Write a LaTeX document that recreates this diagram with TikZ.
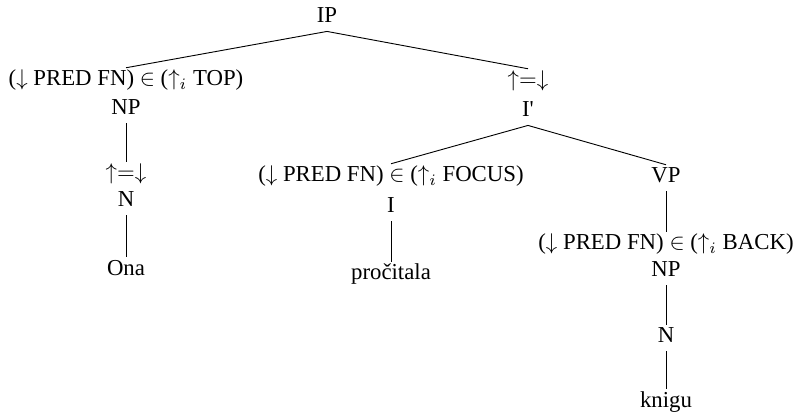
\documentclass[tikz,border=0pt]{standalone}
\usepackage{fontspec}
\setmainfont{Liberation Serif}
\usepackage{amsmath}

\tikzset{
	lbl/.style={inner sep=0pt, text height=7.8pt, text depth=3.5pt, anchor=base}
}

\begin{document}
\begin{tikzpicture}[x=0.4386pt, y=-0.4386pt, every node/.style={lbl}]
			\useasboundingbox (0,0) rectangle (796,417);
			
			\node (ip) at (327,23) {IP};
			
			% left branch
			\node (topf) at (126,86) {($\downarrow$ PRED FN) $\in$ ($\uparrow_i$ TOP)};
			\node (np) at (126,115) {NP};
			\node (npeq) at (126,180) {$\uparrow=\downarrow$};
			\node (n) at (126,207) {N};
			\node (ona) at (126,275) {Ona};
			
			% right branch
			\node (upeq) at (528,87) {$\uparrow=\downarrow$};
			\node (ibar) at (528,117) {I\textquotesingle};
			\node (focf) at (391,182) {($\downarrow$ PRED FN) $\in$ ($\uparrow_i$ FOCUS)};
			\node (i) at (391,213) {I};
			\node (verb) at (391,280) {pročitala};
			\node (vp) at (666,183) {VP};
			\node (backf) at (666,250) {($\downarrow$ PRED FN) $\in$ ($\uparrow_i$ BACK)};
			\node (obj) at (666,277) {NP};
			\node (objn) at (666,343) {N};
			\node (knigu) at (666,407) {knigu};
			
			\draw (ip.south) -- (topf.north);
			\draw (ip.south) -- (upeq.north);
			\draw (np.south) -- (npeq.north);
			\draw (n.south) -- (ona.north);
			\draw (ibar.south) -- (focf.north);
			\draw (ibar.south) -- (vp.north);
			\draw (i.south) -- (verb.north);
			\draw (vp.south) -- (backf.north);
			\draw (obj.south) -- (objn.north);
			\draw (objn.south) -- (knigu.north);
		\end{tikzpicture}
\end{document}
